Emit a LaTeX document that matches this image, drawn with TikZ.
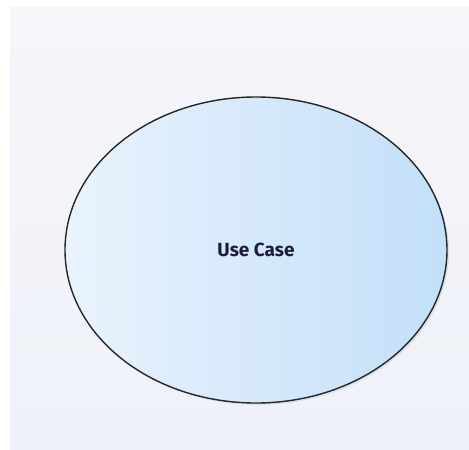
\documentclass[tikz,border=0pt]{standalone}
\usepackage{fontspec}
\setmainfont{Fira Sans}
\usetikzlibrary{shapes.geometric,shadows}

\definecolor{panelTop}{HTML}{F5F6FA}
\definecolor{panelBot}{HTML}{EEF1F8}
\definecolor{ucLeft}{HTML}{E9F3FD}
\definecolor{ucRight}{HTML}{C3DFF9}
\definecolor{ucText}{HTML}{1C1C3C}

\tikzstyle{usecase}=[ellipse, draw=black!85, line width=1.4pt, left color=ucLeft, right color=ucRight, minimum width=382pt, minimum height=306pt, inner sep=0pt, text=ucText, font=\fontsize{19}{23}\selectfont\bfseries, drop shadow={opacity=0.15, shadow xshift=2pt, shadow yshift=-2pt}]

\begin{document}
\begin{tikzpicture}[x=1pt,y=-1pt]

\fill[white] (0,0) rectangle (469,450);
\shade[top color=panelTop, bottom color=panelBot] (10,7) rectangle (469,450);

\node[usecase] (uc) at (256,250) {Use Case};

\end{tikzpicture}
\end{document}
